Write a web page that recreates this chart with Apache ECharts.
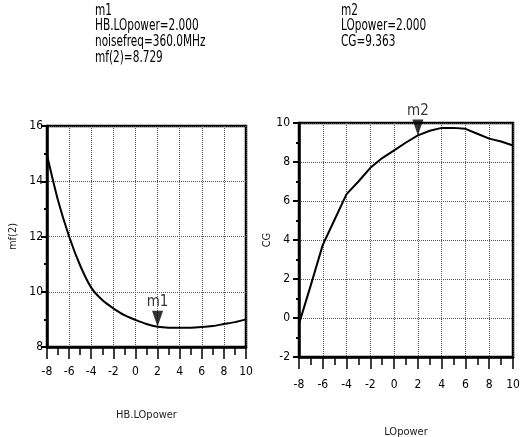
<!DOCTYPE html>
<html>
<head>
<meta charset="utf-8">
<script src="https://cdn.jsdelivr.net/npm/echarts@6/dist/echarts.min.js"></script>
<style>
  html, body { margin: 0; padding: 0; background: #fff; }
  #chart { width: 529px; height: 437px; }
</style>
</head>
<body>
<div id="chart"></div>
<script>
// sweep of LO power (dBm)
var loPower = [-8, -7, -6, -5, -4, -3, -2, -1, 0, 1, 2, 3, 4, 5, 6, 7, 8, 9, 10];
// noise figure mf(2)
var nfVals = [14.95, 13.3, 12.0, 10.95, 10.15, 9.7, 9.4, 9.15, 8.98, 8.83, 8.729, 8.7, 8.7, 8.7, 8.72, 8.76, 8.83, 8.9, 9.0];
// conversion gain CG
var cgVals = [-0.3, 1.7, 3.75, 5.05, 6.35, 7.0, 7.7, 8.2, 8.6, 9.0, 9.363, 9.6, 9.75, 9.75, 9.7, 9.45, 9.2, 9.05, 8.85];

var m1 = [2, 8.729];
var m2 = [2, 9.363];

var FONT = "'DejaVu Sans Condensed', 'Liberation Sans Narrow', 'Liberation Sans', sans-serif";

var myChart = echarts.init(document.getElementById('chart'));

function xAxisOf(idx, name, nameGap, labelMargin) {
  return {
    gridIndex: idx, type: 'value', min: -8, max: 10, interval: 2,
    name: name, nameLocation: 'middle', nameGap: nameGap,
    nameTextStyle: { color: '#222', fontFamily: FONT, fontSize: 11 },
    axisLine: { show: true, onZero: false, lineStyle: { color: '#000', width: 2.5 } },
    axisTick: { show: true, inside: false, length: 12, lineStyle: { color: '#000', width: 1.5 } },
    minorTick: { show: true, splitNumber: 2, length: 8, lineStyle: { color: '#000', width: 1.5 } },
    axisLabel: { color: '#000', fontFamily: FONT, fontSize: 12, margin: labelMargin },
    splitLine: { show: true, lineStyle: { color: '#555', type: 'dotted', width: 1 } }
  };
}

function yAxisOf(idx, name, min, max, nameGap, labelMargin) {
  return {
    gridIndex: idx, type: 'value', min: min, max: max, interval: 2,
    name: name, nameLocation: 'middle', nameGap: nameGap, nameRotate: 90,
    nameTextStyle: { color: '#222', fontFamily: FONT, fontSize: 11 },
    axisLine: { show: true, onZero: false, lineStyle: { color: '#000', width: 2.5 } },
    axisTick: { show: true, length: 6, lineStyle: { color: '#000', width: 2 } },
    minorTick: { show: true, splitNumber: 2, length: 3, lineStyle: { color: '#000', width: 2 } },
    axisLabel: { color: '#000', fontFamily: FONT, fontSize: 12, margin: labelMargin },
    splitLine: { show: true, lineStyle: { color: '#555', type: 'dotted', width: 1 } }
  };
}

function markerSeries(idx, pt, label) {
  return {
    type: 'scatter', xAxisIndex: idx, yAxisIndex: idx,
    data: [pt], symbol: 'triangle', symbolRotate: 180, symbolSize: [11, 16],
    symbolOffset: [0, -8], z: 5,
    itemStyle: { color: '#000' },
    label: {
      show: true, position: 'top', formatter: label, distance: 1,
      color: '#000', fontFamily: FONT, fontSize: 15
    }
  };
}

myChart.setOption({
  animation: false,
  backgroundColor: '#fff',
  grid: [
    { left: 47, top: 126, width: 199, height: 221, outerBoundsMode: 'none', show: true, borderColor: '#000', borderWidth: 2.5 },
    { left: 299, top: 123, width: 214, height: 234, outerBoundsMode: 'none', show: true, borderColor: '#000', borderWidth: 2.5 }
  ],
  xAxis: [xAxisOf(0, 'HB.LOpower', 63, 19), xAxisOf(1, 'LOpower', 70, 22)],
  yAxis: [yAxisOf(0, 'mf(2)', 8, 16, 28, 4), yAxisOf(1, 'CG', -2, 10, 20, 9)],
  graphic: [
    {
      type: 'text', x: 95, y: 3, scaleX: 0.78,
      style: {
        text: 'm1\nHB.LOpower=2.000\nnoisefreq=360.0MHz\nmf(2)=8.729',
        fill: '#000', font: '15px ' + FONT, lineHeight: 15.7
      }
    },
    {
      type: 'text', x: 341, y: 3, scaleX: 0.78,
      style: {
        text: 'm2\nLOpower=2.000\nCG=9.363',
        fill: '#000', font: '15px ' + FONT, lineHeight: 15.7
      }
    }
  ],
  series: [
    {
      type: 'line', xAxisIndex: 0, yAxisIndex: 0, smooth: 0.25, showSymbol: false,
      lineStyle: { color: '#000', width: 2 },
      data: loPower.map(function (x, i) { return [x, nfVals[i]]; })
    },
    {
      type: 'line', xAxisIndex: 1, yAxisIndex: 1, smooth: false, showSymbol: false,
      lineStyle: { color: '#000', width: 2 },
      data: loPower.map(function (x, i) { return [x, cgVals[i]]; })
    },
    markerSeries(0, m1, 'm1'),
    markerSeries(1, m2, 'm2')
  ]
});
</script>
</body>
</html>
